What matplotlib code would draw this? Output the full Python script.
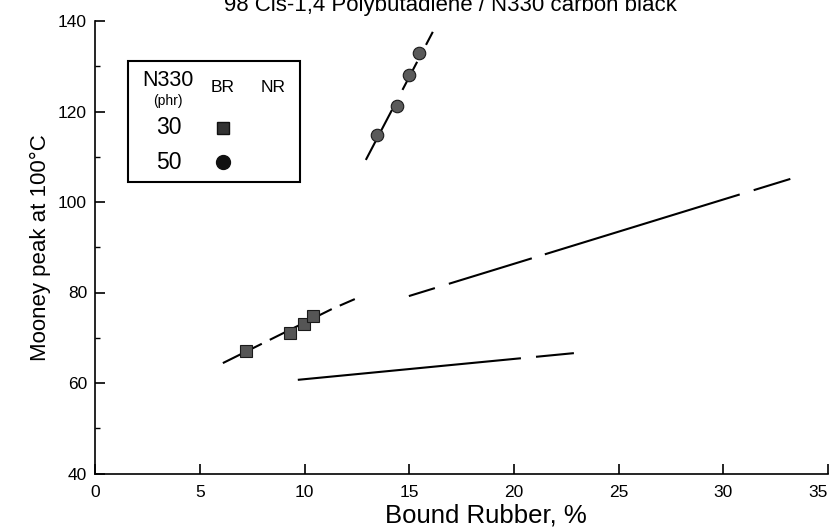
import matplotlib
matplotlib.use('Agg')
import matplotlib.pyplot as plt
from matplotlib.patches import Rectangle
from matplotlib.ticker import MultipleLocator

FIG_W_PX, FIG_H_PX = 836, 531
FONT = 'Liberation Sans'

TITLE = '98 Cis-1,4 Polybutadiene / N330 carbon black'
X_LABEL = 'Bound Rubber, %'
Y_LABEL = 'Mooney peak at 100\u00b0C'

# BR, 30 phr N330 (squares)
br30_bound = [7.19, 9.29, 9.96, 10.38]
br30_mooney = [67.1, 71.1, 73.1, 74.7]
# BR, 50 phr N330 (circles)
br50_bound = [13.45, 14.40, 14.98, 15.46]
br50_mooney = [114.9, 121.3, 128.1, 133.0]

# hand-drawn trend lines (vertices)
fit50_bound = [12.92, 16.12]
fit50_mooney = [109.3, 137.6]
fit30_bound = [6.09, 11.30, 12.40, 14.97, 33.2]
fit30_mooney = [64.4, 76.35, 78.56, 79.2, 105.1]
nr_bound = [9.67, 22.86]
nr_mooney = [60.7, 66.6]

x_ticks = [0, 5, 10, 15, 20, 25, 30, 35]
y_ticks = [40, 60, 80, 100, 120, 140]

legend_rows = ['30', '50']

plt.rcParams['font.family'] = FONT
plt.rcParams['lines.scale_dashes'] = False  # dash lengths in points


def fx(px):
    return px / FIG_W_PX


def fy(py):
    return 1 - py / FIG_H_PX


fig = plt.figure(figsize=(FIG_W_PX / 100, FIG_H_PX / 100), dpi=100)
ax = fig.add_axes([fx(95.4), fy(473.5), fx(828) - fx(95.4), fy(21) - fy(473.5)])

# Lines first, markers on top
ax.plot(fit30_bound, fit30_mooney, color='black', lw=1.5,
        dashes=[31.3, 6.4, 49.8, 6.3, 11.8, 39.0, 19.6, 10.5, 62.5, 9.8, 146.8, 10.5, 27.9, 20],
        zorder=2)
ax.plot(fit50_bound, fit50_mooney, color='black', lw=1.5,
        dashes=[40.6, 16.3, 22.8, 13.8, 10.6, 20], zorder=2)
ax.plot(nr_bound, nr_mooney, color='black', lw=1.5,
        dashes=[161.4, 10.9, 27.5, 20], zorder=2)

ax.plot(br30_bound, br30_mooney, linestyle='none', marker='s', markersize=8.5,
        markerfacecolor='#555555', markeredgecolor='#1a1a1a', markeredgewidth=0.8, zorder=3)
ax.plot(br50_bound, br50_mooney, linestyle='none', marker='o', markersize=9,
        markerfacecolor='#5a5a5a', markeredgecolor='#1a1a1a', markeredgewidth=0.8, zorder=3)

ax.set_xlim(0, 35)
ax.set_ylim(40, 140)
ax.set_xticks(x_ticks)
ax.set_yticks(y_ticks)
ax.yaxis.set_minor_locator(MultipleLocator(10))
for side in ['top', 'right']:
    ax.spines[side].set_visible(False)
for side in ['left', 'bottom']:
    ax.spines[side].set_linewidth(1.2)
ax.tick_params(axis='both', which='major', direction='in', length=7, width=1.2,
               labelsize=12.5, pad=8)
ax.tick_params(axis='y', which='minor', direction='in', length=3.5, width=1.0)
ax.tick_params(axis='y', which='major', pad=6)
ax.get_xticklabels()[-1].set_ha('right')  # keep "35" inside the picture

ax.set_xlabel(X_LABEL, fontsize=18.5)
ax.xaxis.set_label_coords(0.533, -0.092)
ax.xaxis.label.set_va('center')
ax.set_ylabel(Y_LABEL, fontsize=16)
ax.yaxis.set_label_coords(-0.0756, 0.5)
ax.yaxis.label.set_va('center')

fig.text(fx(450), fy(5), TITLE, fontsize=16, ha='center', va='center')

# Legend box
fig.patches.append(Rectangle((fx(128), fy(182)), fx(300) - fx(128), fy(61) - fy(182),
                             transform=fig.transFigure, fill=False, edgecolor='black',
                             linewidth=1.5))
fig.text(fx(168), fy(80.5), 'N330', fontsize=15.5, ha='center', va='center')
fig.text(fx(168), fy(101), '(phr)', fontsize=10, ha='center', va='center')
fig.text(fx(222.7), fy(88), 'BR', fontsize=12.5, ha='center', va='center')
fig.text(fx(273), fy(88), 'NR', fontsize=12.5, ha='center', va='center')
row_y = [128, 162]
for label, py in zip(legend_rows, row_y):
    fig.text(fx(169), fy(py), label, fontsize=16.5, ha='center', va='center')
leg_ax = fig.add_axes([0, 0, 1, 1], facecolor='none')
leg_ax.set_xlim(0, 1)
leg_ax.set_ylim(0, 1)
leg_ax.axis('off')
leg_ax.plot([fx(223)], [fy(128)], marker='s', markersize=8.5, markerfacecolor='#333333',
            markeredgecolor='#111111', linestyle='none')
leg_ax.plot([fx(223)], [fy(162)], marker='o', markersize=10, markerfacecolor='#111111',
            markeredgecolor='#111111', linestyle='none')

fig.savefig('out.png', dpi=100)
